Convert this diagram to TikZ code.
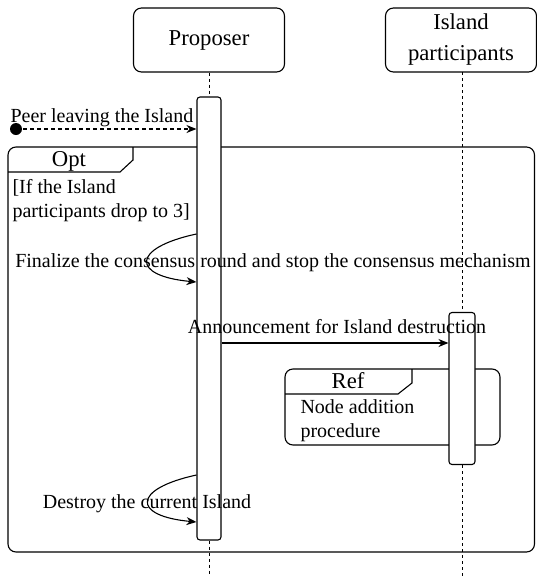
\documentclass[tikz,border=0pt]{standalone}
\usepackage{fontspec}
\setmainfont{Liberation Serif}
\usetikzlibrary{arrows.meta}
\newcommand{\diagfont}{\rmfamily\fontsize{20pt}{24pt}\selectfont}
\newcommand{\headfont}{\rmfamily\fontsize{22.7pt}{31pt}\selectfont}
\begin{document}
\begin{tikzpicture}[x=1pt,y=-1pt,line width=1.1pt,
  txt/.style={font=\diagfont,inner sep=0pt},
  actor/.style={font=\headfont,inner sep=0pt,draw,rounded corners=8pt,minimum width=151pt,minimum height=64pt,align=center},
  actbar/.style={draw,fill=white,rounded corners=3pt,inner sep=0pt},
  lifeline/.style={line width=1pt,dash pattern=on 3pt off 3pt},
  msg/.style={-{Stealth[length=10pt,width=8pt]}},
  frame/.style={draw,rounded corners=8pt},
  lbl/.style={txt,anchor=base},
  tag/.style={font=\headfont,inner sep=0pt,anchor=base},
  para/.style={txt,anchor=base west,align=left}]
  \useasboundingbox (0,0) rectangle (536,576);

  % combined fragments
  \draw[frame] (8,147) rectangle (534.5,552);
  \draw (8,172) -- (120,172) -- (133,160) -- (133,147);
  \node[tag] (optlbl) at (69,166) {Opt};
  \draw[frame] (285,369) rectangle (500,445);
  \draw (285,394) -- (398,394) -- (412,383) -- (412,369);
  \node[tag] (reflbl) at (348,388) {Ref};

  % actors
  \node[actor] (prop) at (209,40) {Proposer};
  \node[actor] (isl) at (461,40) {Island\\participants};

  % lifelines
  \coordinate (pend) at (209,576);
  \coordinate (iend) at (462,576);
  \coordinate (itop) at (462,72);
  \node[actbar,minimum width=24pt,minimum height=443pt] (pbar) at (209,318.5) {};
  \node[actbar,minimum width=26pt,minimum height=152pt] (ibar) at (462,388.5) {};
  \draw[lifeline] (prop.south) -- (pbar.north);
  \draw[lifeline] (pbar.south) -- (pend);
  \draw[lifeline] (itop) -- (ibar.north);
  \draw[lifeline] (ibar.south) -- (iend);

  % found message
  \coordinate (peer) at (16,129);
  \fill (peer) circle (6pt);
  \draw[msg,dash pattern=on 4pt off 3pt] (peer) -- (pbar.west |- peer);
  \node[txt,anchor=base west] (peerlbl) at (10,122) {Peer leaving the Island};

  % guard
  \node[para] (guard) at (12,217) {[If the Island\\participants drop to 3]};

  % self message: finalize
  \coordinate (f1) at (pbar.west |- 0,234);
  \coordinate (f2) at (pbar.west |- 0,282);
  \draw[msg] (f1) .. controls (131,248) and (131,276) .. (f2);
  \node[lbl] (finlbl) at (273,267) {Finalize the consensus round and stop the consensus mechanism};

  % announcement
  \coordinate (a1) at (pbar.east |- 0,343);
  \draw[msg] (a1) -- (ibar.west |- a1);
  \node[lbl] (annlbl) at (337,333) {Announcement for Island destruction};

  % reference body
  \node[para] (reftxt) at (300,437) {Node addition\\procedure};

  % self message: destroy
  \coordinate (d1) at (pbar.west |- 0,475);
  \coordinate (d2) at (pbar.west |- 0,522);
  \draw[msg] (d1) .. controls (132,489) and (132,516) .. (d2);
  \node[lbl] (deslbl) at (147,508) {Destroy the current Island};
\end{tikzpicture}
\end{document}
